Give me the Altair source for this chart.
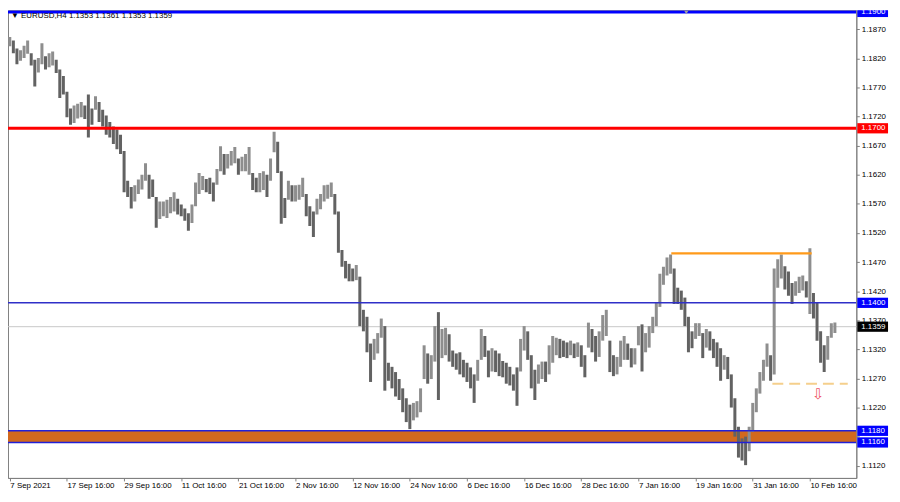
import altair as alt
import pandas as pd

# ---- EURUSD H4, high / low per column (3 H4 bars per column) ----
highs = [
    1.1857,1.1851,1.1837,1.1834,1.1842,1.1851,1.1829,1.1818,1.1821,1.1846,1.1824,1.1829,1.1832,1.1818,1.1801,1.1790,
    1.1763,1.1734,1.1739,1.1742,1.1745,1.1739,1.1758,1.1734,1.1755,1.1745,1.1732,1.1722,1.1711,1.1703,1.1698,1.1689,
    1.1661,1.1610,1.1599,1.1602,1.1612,1.1620,1.1640,1.1620,1.1612,1.1582,1.1574,1.1574,1.1577,1.1582,1.1590,1.1579,
    1.1569,1.1562,1.1554,1.1569,1.1607,1.1623,1.1618,1.1613,1.1615,1.1607,1.1630,1.1669,1.1656,1.1656,1.1661,1.1668,
    1.1648,1.1651,1.1656,1.1668,1.1623,1.1615,1.1623,1.1626,1.1620,1.1648,1.1694,1.1677,1.1626,1.1580,1.1610,1.1602,
    1.1602,1.1603,1.1615,1.1587,1.1566,1.1557,1.1579,1.1587,1.1602,1.1603,1.1607,1.1587,1.1557,1.1491,1.1472,1.1467,
    1.1459,1.1465,1.1445,1.1388,1.1376,1.1330,1.1338,1.1348,1.1373,1.1360,1.1297,1.1290,1.1281,1.1269,1.1253,1.1236,
    1.1225,1.1228,1.1231,1.1253,1.1327,1.1313,1.1310,1.1360,1.1384,1.1355,1.1357,1.1346,1.1318,1.1313,1.1315,1.1302,
    1.1297,1.1289,1.1277,1.1302,1.1355,1.1343,1.1318,1.1322,1.1318,1.1313,1.1300,1.1297,1.1290,1.1277,1.1289,1.1338,
    1.1360,1.1351,1.1310,1.1285,1.1294,1.1299,1.1299,1.1327,1.1343,1.1340,1.1338,1.1335,1.1332,1.1335,1.1330,1.1332,
    1.1327,1.1310,1.1366,1.1355,1.1343,1.1351,1.1379,1.1388,1.1335,1.1310,1.1307,1.1335,1.1343,1.1330,1.1322,1.1322,
    1.1360,1.1363,1.1348,1.1360,1.1376,1.1401,1.1450,1.1462,1.1478,1.1483,1.1459,1.1426,1.1421,1.1409,1.1376,1.1351,
    1.1365,1.1365,1.1348,1.1355,1.1351,1.1338,1.1332,1.1322,1.1310,1.1307,1.1277,1.1236,1.1187,1.1167,1.1170,1.1187,
    1.1228,1.1253,1.1281,1.1302,1.1330,1.1310,1.1459,1.1475,1.1483,1.1463,1.1454,1.1434,1.1437,1.1445,1.1447,1.1437,
    1.1494,1.1417,1.1401,1.1351,1.1327,1.1343,1.1365,1.1366,
]
lows = [
    1.1841,1.1829,1.1810,1.1816,1.1821,1.1828,1.1808,1.1772,1.1796,1.1810,1.1801,1.1805,1.1808,1.1795,1.1752,1.1758,
    1.1719,1.1706,1.1709,1.1717,1.1719,1.1716,1.1684,1.1706,1.1732,1.1711,1.1703,1.1689,1.1684,1.1673,1.1664,1.1656,
    1.1590,1.1582,1.1562,1.1574,1.1587,1.1595,1.1610,1.1579,1.1582,1.1529,1.1544,1.1549,1.1546,1.1554,1.1557,1.1552,
    1.1549,1.1541,1.1524,1.1537,1.1566,1.1587,1.1594,1.1590,1.1587,1.1574,1.1603,1.1626,1.1620,1.1631,1.1636,1.1640,
    1.1620,1.1626,1.1626,1.1620,1.1594,1.1590,1.1590,1.1594,1.1582,1.1610,1.1659,1.1623,1.1536,1.1546,1.1577,1.1574,
    1.1574,1.1577,1.1582,1.1549,1.1532,1.1513,1.1552,1.1561,1.1574,1.1579,1.1582,1.1552,1.1486,1.1462,1.1442,1.1437,
    1.1437,1.1439,1.1360,1.1351,1.1315,1.1264,1.1302,1.1313,1.1340,1.1249,1.1266,1.1253,1.1239,1.1233,1.1212,1.1195,
    1.1183,1.1198,1.1203,1.1212,1.1269,1.1261,1.1269,1.1299,1.1233,1.1305,1.1310,1.1299,1.1290,1.1285,1.1277,1.1272,
    1.1264,1.1253,1.1228,1.1266,1.1302,1.1307,1.1272,1.1282,1.1281,1.1274,1.1272,1.1261,1.1258,1.1249,1.1223,1.1282,
    1.1318,1.1302,1.1253,1.1233,1.1261,1.1269,1.1264,1.1277,1.1297,1.1310,1.1305,1.1307,1.1305,1.1310,1.1305,1.1307,
    1.1290,1.1272,1.1323,1.1315,1.1299,1.1307,1.1335,1.1343,1.1281,1.1274,1.1277,1.1290,1.1302,1.1302,1.1289,1.1294,
    1.1327,1.1282,1.1315,1.1323,1.1348,1.1360,1.1393,1.1431,1.1447,1.1450,1.1398,1.1398,1.1388,1.1360,1.1315,1.1322,
    1.1338,1.1343,1.1305,1.1323,1.1318,1.1305,1.1290,1.1266,1.1285,1.1269,1.1220,1.1170,1.1134,1.1129,1.1121,1.1145,
    1.1178,1.1212,1.1244,1.1266,1.1290,1.1266,1.1277,1.1426,1.1442,1.1423,1.1412,1.1398,1.1412,1.1417,1.1421,1.1409,
    1.1381,1.1373,1.1335,1.1297,1.1281,1.1302,1.1340,1.1348,
]

x_labels = ["7 Sep 2021", "17 Sep 16:00", "29 Sep 16:00", "11 Oct 16:00", "21 Oct 16:00",
            "2 Nov 16:00", "12 Nov 16:00", "24 Nov 16:00", "6 Dec 16:00", "16 Dec 16:00",
            "28 Dec 16:00", "7 Jan 16:00", "19 Jan 16:00", "31 Jan 16:00", "10 Feb 16:00"]
label_step = 16  # columns between two date labels

y_ticks = [1.1870, 1.1820, 1.1770, 1.1720, 1.1670, 1.1620, 1.1570, 1.1520, 1.1470,
           1.1420, 1.1370, 1.1320, 1.1270, 1.1220, 1.1170, 1.1120]
y_hidden_label = 1.1170  # covered by the 1.1160 / 1.1180 tags in the original

level_prices = [1.1900, 1.1700, 1.1400, 1.1180, 1.1160]
level_colors = ["#0000ff", "#ff0000", "#3030c8", "#2020d8", "#2020d8"]
level_widths = [3, 3, 1.6, 1.6, 1.6]

zone_top, zone_bottom = 1.1180, 1.1160
last_price = 1.1359

resist_price, resist_from, resist_to = 1.1485, 185.2, 224.5
support_price, support_from, support_to = 1.1261, 213.5, 234.6
arrow_k, arrow_price = 226.3, 1.1243

tag_prices = [1.1900, 1.1700, 1.1400, 1.1359, 1.1180, 1.1160]
tag_colors = ["#0000ff", "#ff0000", "#0000ff", "#000000", "#0000ff", "#0000ff"]

header = "▼ EURUSD,H4  1.1353 1.1361 1.1353 1.1359"

W, H = 856, 472
FONT = "Liberation Sans"
y_dom = [1.1099, 1.1903]
x_dom = [-0.5, 237.0]

df = pd.DataFrame({"k": range(len(highs)), "high": highs, "low": lows})
mid = (df["high"] + df["low"]) / 2
df["dir"] = (mid >= mid.shift(1).fillna(mid.iloc[0])).map({True: "up", False: "down"})

xs = alt.Scale(domain=x_dom, nice=False, zero=False)
ys = alt.Scale(domain=y_dom, nice=False, zero=False)

lab_js = "[" + ",".join("'" + s + "'" for s in x_labels) + "]"
x_axis = alt.Axis(values=[i * label_step for i in range(len(x_labels))],
                  labelExpr=lab_js + "[round(datum.value/" + str(label_step) + ")]",
                  labelAlign="left", labelFont=FONT, labelFontSize=8, labelColor="#000000",
                  labelPadding=1, tickSize=3, tickColor="#808080", domainColor="#808080",
                  grid=False, title=None, labelFlush=False, labelOverlap=False)
y_axis = alt.Axis(orient="right", values=y_ticks,
                  labelExpr="abs(datum.value - " + str(y_hidden_label) + ") < 0.00001 ? '' : format(datum.value, '.4f')",
                  labelFont=FONT, labelFontSize=8,
                  labelColor="#000000", labelPadding=2, tickSize=3, tickColor="#808080",
                  domainColor="#808080", grid=False, title=None, labelOverlap=False,
                  labelBound=False, labelFlush=False)


def Y(field):
    return alt.Y(field, scale=ys, axis=y_axis)


def X(field):
    return alt.X(field, scale=xs, axis=x_axis)


zone = alt.Chart(pd.DataFrame({"top": [zone_top], "bottom": [zone_bottom]})).mark_rect(
    color="#d2691e").encode(x=alt.value(0), x2=alt.value(W), y=Y("top:Q"), y2="bottom:Q")

last_line = alt.Chart(pd.DataFrame({"p": [last_price]})).mark_rule(
    color="#c8c8c8", strokeWidth=1).encode(y=Y("p:Q"))

candles = alt.Chart(df).transform_calculate(
    k0="datum.k - 0.42", k1="datum.k + 0.42").mark_rect(clip=True).encode(
    x=X("k0:Q"), x2="k1:Q",
    y=Y("high:Q"), y2="low:Q",
    color=alt.Color("dir:N", scale=alt.Scale(domain=["up", "down"], range=["#8e8e8e", "#626262"]),
                    legend=None),
)

levels = alt.Chart(pd.DataFrame({"p": level_prices, "c": level_colors, "w": level_widths})).mark_rule(
    clip=True).encode(
    y=Y("p:Q"),
    color=alt.Color("c:N", scale=None),
    strokeWidth=alt.StrokeWidth("w:Q", scale=None),
)

resist = alt.Chart(pd.DataFrame({"a": [resist_from], "b": [resist_to], "p": [resist_price]})).mark_rule(
    color="#ff9a1a", strokeWidth=2.5).encode(x=X("a:Q"), x2="b:Q", y=Y("p:Q"))

support = alt.Chart(pd.DataFrame({"a": [support_from], "b": [support_to], "p": [support_price]})).mark_rule(
    color="#f5cf8c", strokeWidth=2, strokeDash=[11, 6]).encode(x=X("a:Q"), x2="b:Q", y=Y("p:Q"))

arrow = alt.Chart(pd.DataFrame({"k": [arrow_k], "p": [arrow_price], "t": ["⇩"]})).mark_text(
    font="DejaVu Sans", fontSize=15, color="#ee5566").encode(x=X("k:Q"), y=Y("p:Q"), text="t:N")

marker = alt.Chart(pd.DataFrame({"k": [189.4], "p": [1.1899]})).mark_point(
    shape="triangle-down", filled=True, size=18, color="#a0a0a0", opacity=1).encode(
    x=X("k:Q"), y=Y("p:Q"))

tags_df = pd.DataFrame({"p": tag_prices, "c": tag_colors})
tag_boxes = alt.Chart(tags_df).transform_calculate(
    top="min(datum.p + 0.00088, " + str(y_dom[1]) + ")", bot="datum.p - 0.00088").mark_rect().encode(
    x=alt.value(W + 1), x2=alt.value(W + 32),
    y=Y("top:Q"), y2="bot:Q",
    color=alt.Color("c:N", scale=None))
tag_text = alt.Chart(tags_df).mark_text(
    align="left", baseline="middle", font=FONT, fontSize=8, color="#ffffff").encode(
    x=alt.value(W + 5), y=Y("p:Q"), text=alt.Text("p:Q", format=".4f"))

title = alt.Chart(pd.DataFrame({"t": [header]})).mark_text(
    align="left", baseline="middle", font=FONT, fontSize=8, color="#000000").encode(
    x=alt.value(3), y=alt.value(6), text="t:N")

chart = alt.layer(zone, last_line, candles, levels, resist, support, arrow, marker,
                  tag_boxes, tag_text, title).properties(
    width=W, height=H,
    autosize=alt.AutoSizeParams(type="none"),
    padding={"left": 0, "top": 0, "right": 36, "bottom": 15},
    background="#ffffff",
).configure_view(stroke="#808080", strokeWidth=1).configure_axisY(labelOverlap=False)

chart.save("out.html", embed_options={"renderer": "svg", "actions": False})
